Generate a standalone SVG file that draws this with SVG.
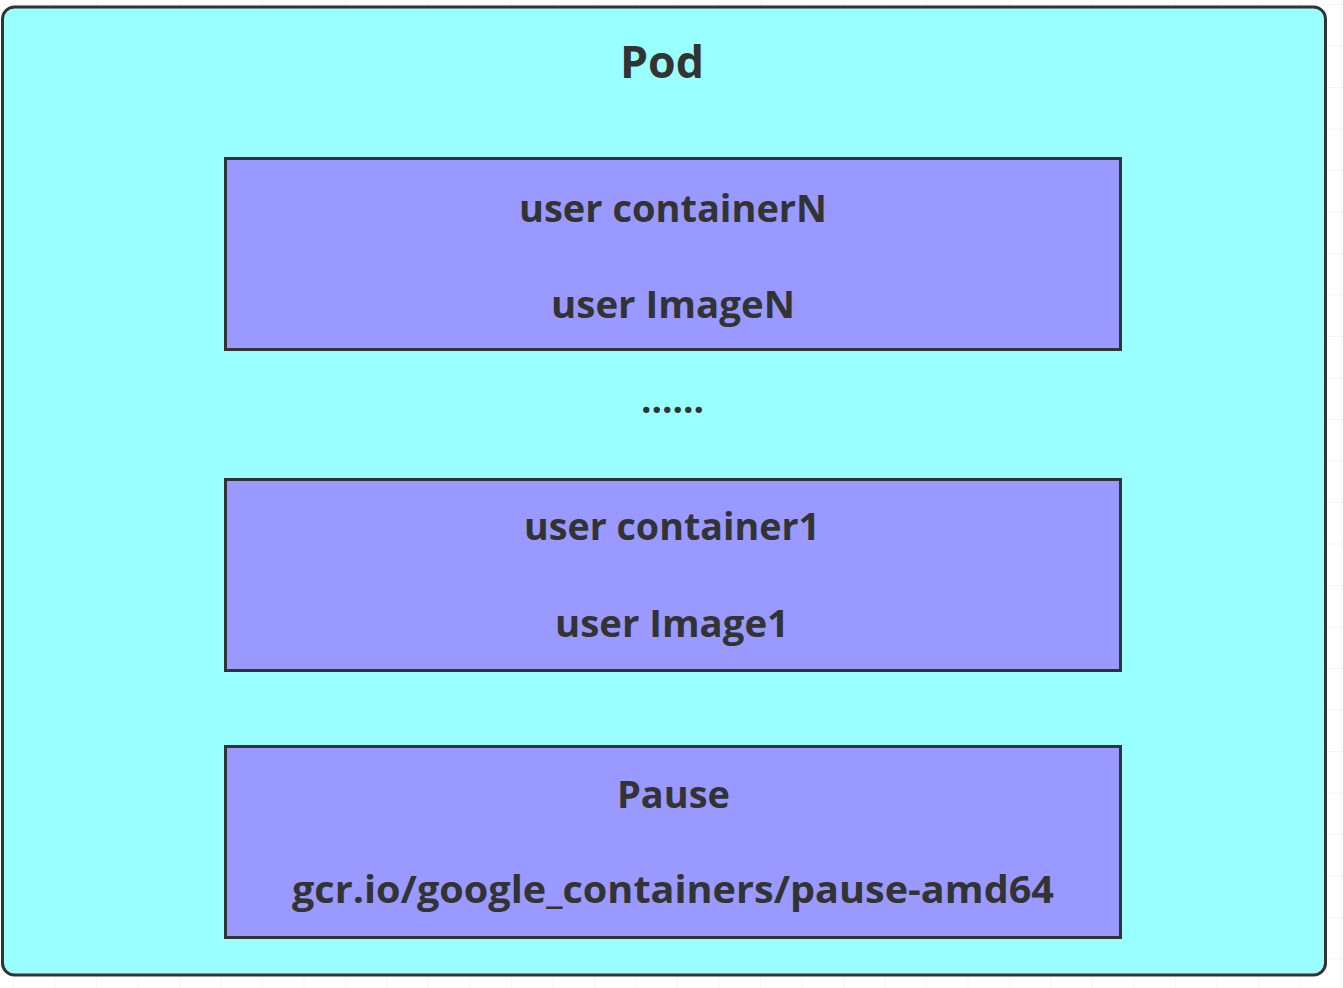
<svg xmlns="http://www.w3.org/2000/svg" width="1343" height="988" viewBox="0 0 1343 988">
<defs>
<style>
.grid{stroke:#ececec;stroke-width:1}
.pod{fill:#99FFFF;stroke:#333;stroke-width:3}
.box{fill:#9999FF;stroke:#333;stroke-width:3}
.t{font-family:"Open Sans","Noto Sans",sans-serif;font-weight:bold;font-size:38px;fill:#333;text-anchor:middle}
</style>
<pattern id="g" x="13" y="4" width="41.5" height="41.5" patternUnits="userSpaceOnUse">
<path d="M0 0V41.5M0 0H41.5" class="grid" fill="none"/>
</pattern>
</defs>
<rect width="1343" height="988" fill="#fff"/>
<rect width="1343" height="988" fill="url(#g)"/>
<g id="pod">
<rect class="pod" x="2.5" y="7" width="1323" height="968" rx="12"/>
<text class="t" x="662" y="78" style="font-size:44px" textLength="84" lengthAdjust="spacingAndGlyphs">Pod</text>
</g>
<g id="containerN">
<rect class="box" x="225.5" y="158.5" width="895" height="191"/>
<text class="t" x="673" y="222" textLength="308" lengthAdjust="spacingAndGlyphs">user containerN</text>
<text class="t" x="673" y="318" textLength="244" lengthAdjust="spacingAndGlyphs">user ImageN</text>
</g>
<g id="ellipsis">
<text class="t" x="672.5" y="413" textLength="63" lengthAdjust="spacingAndGlyphs">......</text>
</g>
<g id="container1">
<rect class="box" x="225.5" y="479.5" width="895" height="191"/>
<text class="t" x="672" y="540" textLength="296" lengthAdjust="spacingAndGlyphs">user container1</text>
<text class="t" x="672" y="637" textLength="234" lengthAdjust="spacingAndGlyphs">user Image1</text>
</g>
<g id="pause">
<rect class="box" x="225.5" y="746.5" width="895" height="191"/>
<text class="t" x="673.5" y="808" textLength="113" lengthAdjust="spacingAndGlyphs">Pause</text>
<text class="t" x="673" y="903" textLength="762" lengthAdjust="spacingAndGlyphs">gcr.io/google_containers/pause-amd64</text>
</g>
<g id="connectors"/>
</svg>
